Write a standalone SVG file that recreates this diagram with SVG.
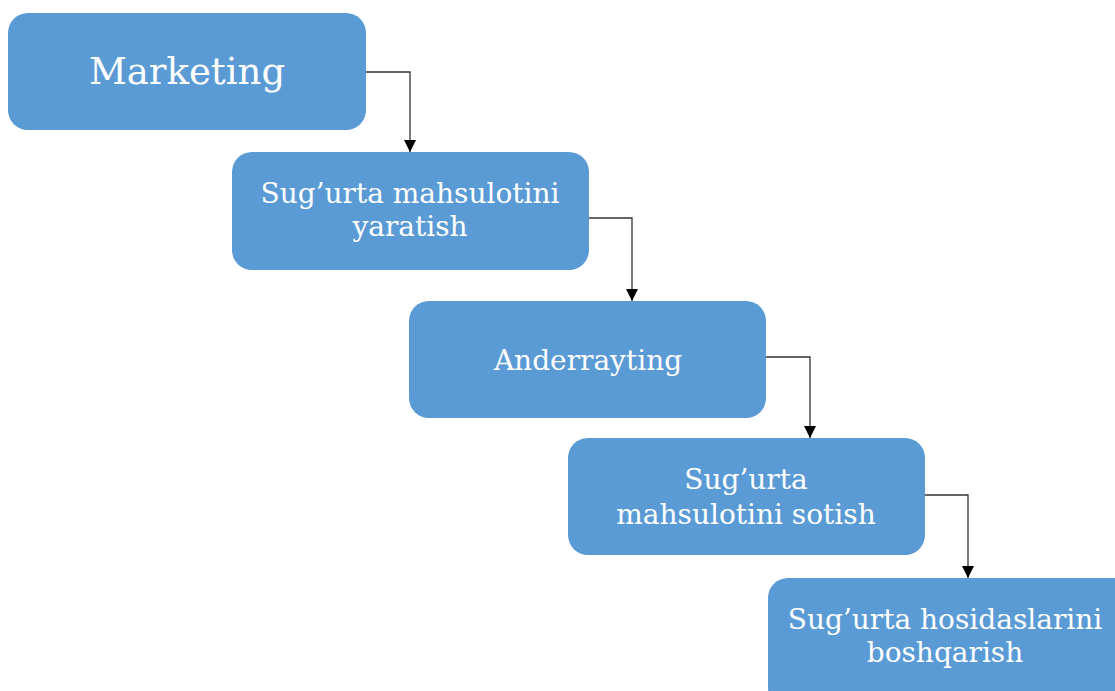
<svg xmlns="http://www.w3.org/2000/svg" width="1115" height="691" viewBox="0 0 1115 691">
<defs>
<style>
.box{fill:#5B9BD5;}
.t{font-family:"DejaVu Serif","Liberation Serif",serif;fill:#ffffff;text-anchor:middle;font-size:28px;}
.big{font-size:37px;}
.c{fill:none;stroke:#333333;stroke-width:1.3;}
</style>
<marker id="ah" markerWidth="12" markerHeight="12" refX="10" refY="5" orient="auto" markerUnits="userSpaceOnUse" viewBox="0 0 10 10">
<path d="M0,0 L10,5 L0,10 Z" fill="#000"/>
</marker>
</defs>
<rect width="1115" height="691" fill="#ffffff"/>
<g id="connectors">
<path class="c" d="M366,72 H410 V152" marker-end="url(#ah)"/>
<path class="c" d="M589,218 H632 V301" marker-end="url(#ah)"/>
<path class="c" d="M766,357 H810 V438" marker-end="url(#ah)"/>
<path class="c" d="M925,495 H968 V578" marker-end="url(#ah)"/>
</g>
<g id="n1">
<rect class="box" x="8" y="13" width="358" height="117" rx="20"/>
<text class="t big" x="187" y="84">Marketing</text>
</g>
<g id="n2">
<rect class="box" x="232" y="152" width="357" height="118" rx="20"/>
<text class="t" x="410" y="203">Sug’urta mahsulotini</text>
<text class="t" x="410" y="236">yaratish</text>
</g>
<g id="n3">
<rect class="box" x="409" y="301" width="357" height="117" rx="20"/>
<text class="t" x="588" y="370">Anderrayting</text>
</g>
<g id="n4">
<rect class="box" x="568" y="438" width="357" height="117" rx="20"/>
<text class="t" x="746" y="489">Sug’urta</text>
<text class="t" x="746" y="524">mahsulotini sotish</text>
</g>
<g id="n5">
<rect class="box" x="768" y="578" width="370" height="130" rx="20"/>
<text class="t" x="945" y="629">Sug’urta hosidaslarini</text>
<text class="t" x="945" y="662">boshqarish</text>
</g>
</svg>
